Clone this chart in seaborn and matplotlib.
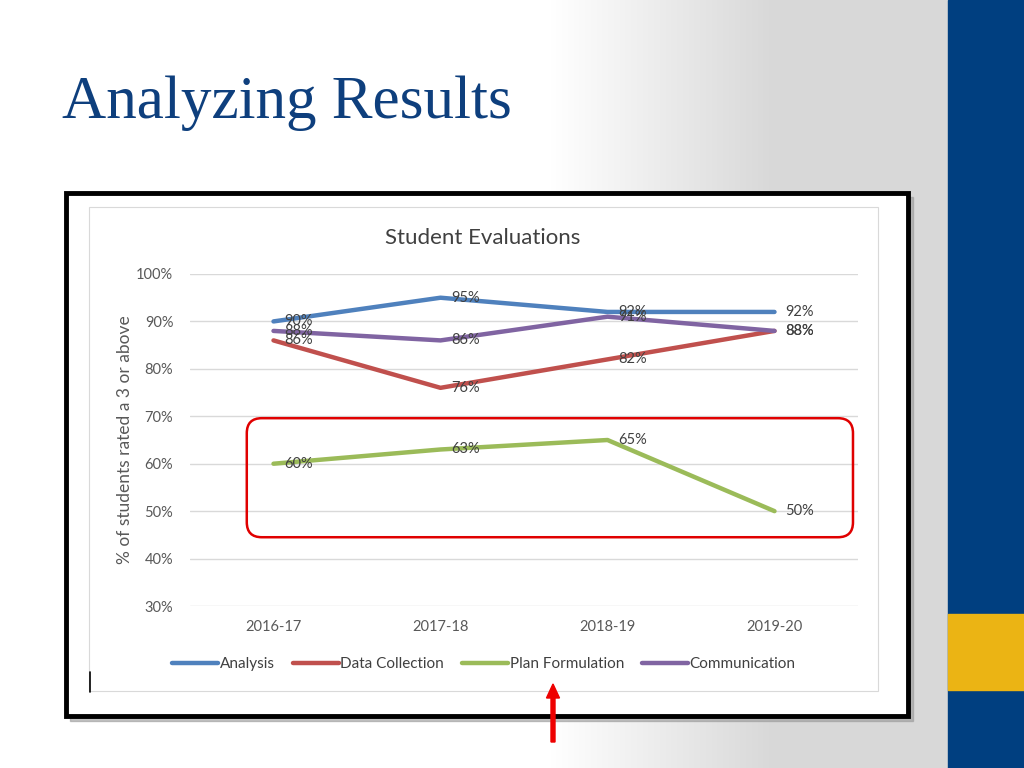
import numpy as np
import pandas as pd
import seaborn as sns
import matplotlib.pyplot as plt
from matplotlib.patches import Rectangle, FancyBboxPatch, FancyArrow

# data
years = ["2016-17", "2017-18", "2018-19", "2019-20"]
analysis = [90, 95, 92, 92]
data_collection = [86, 76, 82, 88]
plan_formulation = [60, 63, 65, 50]
communication = [88, 86, 91, 88]
series_names = ["Analysis", "Data Collection", "Plan Formulation", "Communication"]
series_colors = ["#4f81bd", "#c0504d", "#9bbb59", "#8064a2"]
y_ticks = [30, 40, 50, 60, 70, 80, 90, 100]

df = pd.DataFrame({"Year": years, "Analysis": analysis, "Data Collection": data_collection,
                   "Plan Formulation": plan_formulation, "Communication": communication})
long_df = df.melt(id_vars="Year", var_name="Series", value_name="Pct")
long_df["x"] = long_df["Year"].map({y: i for i, y in enumerate(years)})

sns.set_theme(style="white")
plt.rcParams["font.family"] = ["Lato", "DejaVu Sans"]

W, H = 1024, 768
fig = plt.figure(figsize=(W / 100, H / 100), dpi=100)

# slide background (pixel coords)
bg = fig.add_axes([0, 0, 1, 1])
bg.set_xlim(0, W)
bg.set_ylim(H, 0)
bg.axis("off")
xs = np.arange(W)
t = np.clip((xs - 550) / 220.0, 0, 1)
grad = np.tile(1 - t * (1 - 0.85), (2, 1))
bg.imshow(np.dstack([grad] * 3), extent=[0, W, H, 0], aspect="auto", zorder=0)
bg.add_patch(Rectangle((948, 0), 76, H, color="#003f80", zorder=1))
bg.add_patch(Rectangle((948, 614), 76, 76, color="#ebb414", zorder=2))
# chart frame with shadow
bg.add_patch(Rectangle((70, 197), 843, 524, color="#9a9a9a", alpha=0.6, zorder=2))
bg.add_patch(Rectangle((66, 193), 842, 523, facecolor="white", edgecolor="black", lw=3.5, zorder=3))
bg.add_patch(Rectangle((89, 207), 789, 484, facecolor="white", edgecolor="#d9d9d9", lw=0.8, zorder=4))
bg.plot([90, 90], [672, 692], color="black", lw=1.2, zorder=5)
# red arrow
bg.add_patch(FancyArrow(553, 742, 0, -58, width=4, head_width=13, head_length=14,
                        length_includes_head=True, color="#ee0000", zorder=6))
bg.text(62, 103, "Analyzing Results", fontsize=44, family=["Liberation Serif", "DejaVu Serif"],
        color="#0e3f7d", va="center", ha="left", zorder=6)
bg.text(483, 238, "Student Evaluations", fontsize=16, color="#404040", ha="center", va="center", zorder=6)

# chart axes
ax = fig.add_axes([190 / W, 1 - 606 / H, (858 - 190) / W, (606 - 274) / H])
ax.set_zorder(5)
ax.patch.set_alpha(0)
sns.lineplot(data=long_df, x="x", y="Pct", hue="Series", hue_order=series_names,
             palette=series_colors, linewidth=3.2, ax=ax, legend=False)
for line in ax.lines:
    line.set_solid_capstyle("round")
ax.set_xlim(-0.5, 3.5)
ax.set_ylim(30, 100)
ax.set_yticks(y_ticks)
ax.set_yticklabels([f"{v}%" for v in y_ticks], fontsize=10.5, color="#595959")
ax.set_xticks(range(len(years)))
ax.set_xticklabels(years, fontsize=10.5, color="#595959")
ax.tick_params(axis="y", length=0, pad=12)
ax.tick_params(axis="x", length=0, pad=10)
ax.grid(axis="y", color="#d9d9d9", lw=1)
ax.set_axisbelow(True)
for s in ax.spines.values():
    s.set_visible(False)
ax.set_xlabel("")
ax.set_ylabel("% of students rated a 3 or above", fontsize=12.5, color="#595959", labelpad=2)

for name in series_names:
    for i, v in enumerate(df[name]):
        ax.annotate(f"{v}%", (i, v), xytext=(8, 0), textcoords="offset points",
                    fontsize=10.5, color="#404040", va="center", ha="left")

# red highlight box around plan formulation (rounded corners, x/y scale differ)
px_x = (858 - 190) / 4.0
px_y = (606 - 274) / 70.0
ax.add_patch(FancyBboxPatch((-0.16, 44.5), 3.63, 25.1, boxstyle="round,pad=0,rounding_size=0.09",
                            mutation_aspect=px_x / px_y, fill=False, edgecolor="#e00000",
                            lw=1.8, clip_on=False, zorder=6))

handles = [plt.Line2D([], [], color=c, lw=3.2, solid_capstyle="round") for c in series_colors]
leg = ax.legend(handles, series_names, loc="center", bbox_to_anchor=(0.44, -0.175), ncol=4,
                frameon=False, fontsize=11, handlelength=3.0, handletextpad=0.1, columnspacing=1.2)
for txt in leg.get_texts():
    txt.set_color("#404040")

fig.savefig("out.png", dpi=100)
